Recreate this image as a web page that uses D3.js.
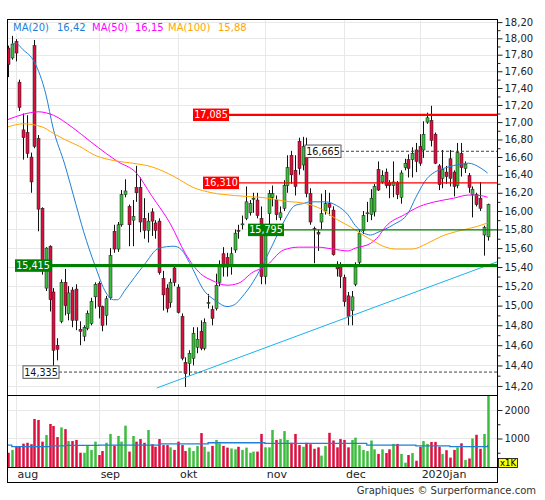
<!DOCTYPE html>
<html><head><meta charset="utf-8">
<script src="https://cdn.jsdelivr.net/npm/d3@7"></script>
<style>
body{margin:0;background:#fff}
svg{display:block}
text{font-family:"DejaVu Sans",Verdana,sans-serif}
</style>
</head><body>
<svg id="c" width="545" height="500"></svg>
<script>
// ---------- DATA ----------
const tradingDays = [
  ["2019-07", [30,31]],
  ["2019-08", [1,2,5,6,7,8,9,12,13,14,15,16,19,20,21,22,23,26,27,28,29,30]],
  ["2019-09", [2,3,4,5,6,9,10,11,12,13,16,17,18,19,20,23,24,25,26,27,30]],
  ["2019-10", [1,2,3,4,7,8,9,10,11,14,15,16,17,18,21,22,23,24,25,28,29,30,31]],
  ["2019-11", [1,4,5,6,7,8,11,12,13,14,15,18,19,20,21,22,25,26,27,28,29]],
  ["2019-12", [2,3,4,5,6,9,10,11,12,13,16,17,18,19,20,23,24,27,30,31]],
  ["2020-01", [2,3,6,7,8,9,10,13,14,15,16,17,20,21,22,23,24,27,28]]
];
const dates = tradingDays.flatMap(([m, ds]) => ds.map(d => m + "-" + String(d).padStart(2, "0")));

const open = [
17.88,17.76,17.96,17.47,16.91,16.88,16.60,17.91,16.81,16.03,
15.18,15.62,15.14,14.60,14.84,15.24,14.92,15.16,15.17,14.76,
14.69,14.77,14.82,15.09,15.23,14.99,14.90,15.08,15.78,15.59,
15.85,16.18,16.05,15.90,16.26,16.26,15.92,15.79,15.99,15.87,
15.89,15.28,15.18,15.03,15.39,15.19,14.89,14.43,14.42,14.47,
14.58,14.74,14.57,15.02,14.96,14.97,15.24,15.54,15.50,15.42,
15.58,15.79,15.85,15.92,15.98,16.14,16.12,15.92,15.30,15.97,
16.15,16.12,15.93,16.03,16.28,16.62,16.45,16.78,16.51,16.62,
16.19,15.81,15.77,15.88,16.00,16.08,16.01,15.43,15.42,15.29,
15.10,14.95,15.22,15.45,15.79,15.97,15.96,15.99,16.46,16.32,
16.43,16.31,16.28,16.31,16.15,16.48,16.57,16.57,16.68,16.72,
16.68,17.00,17.02,16.86,16.50,16.36,16.43,16.58,16.43,16.28,
16.64,16.47,16.39,16.18,16.18,16.14,15.74,15.72];
const high = [
17.91,18.03,17.99,17.50,17.10,17.08,16.65,17.98,16.85,16.04,
15.61,15.63,15.18,14.67,15.27,15.38,15.20,15.19,15.22,14.84,
14.80,14.95,15.08,15.24,15.25,15.00,15.10,15.60,15.85,15.88,
16.23,16.35,16.07,16.12,16.50,16.37,16.14,15.98,16.03,15.90,
15.92,15.36,15.22,15.28,15.40,15.22,14.92,14.48,14.55,14.78,
14.78,14.85,14.87,15.12,15.00,15.33,15.47,15.61,15.55,15.61,
15.80,15.85,15.95,16.27,16.12,16.20,16.20,16.05,15.80,16.23,
16.28,16.17,16.05,16.34,16.62,16.67,16.62,16.82,16.83,16.82,
16.25,15.83,15.80,16.19,16.23,16.20,16.05,15.46,15.45,15.32,
15.14,15.15,15.45,15.80,16.00,16.10,16.24,16.30,16.55,16.45,
16.47,16.34,16.55,16.33,16.45,16.58,16.63,16.71,16.76,16.86,
17.01,17.11,17.19,16.88,16.52,16.68,16.50,16.68,16.45,16.76,
16.76,16.55,16.42,16.27,16.20,16.32,15.84,16.08];
const low = [
17.53,17.74,17.72,17.13,16.57,16.59,16.20,16.70,15.78,15.32,
15.15,14.94,14.335,14.45,14.82,14.90,14.85,14.78,14.75,14.60,
14.64,14.75,14.80,14.97,14.87,14.74,14.80,15.06,15.55,15.56,
15.83,16.15,15.62,15.62,16.10,15.77,15.70,15.66,15.73,15.70,
15.32,14.95,14.93,14.98,15.20,14.92,14.45,14.19,14.30,14.40,
14.52,14.55,14.55,14.97,14.80,14.95,15.20,15.30,15.30,15.32,
15.55,15.70,15.80,15.90,15.95,15.98,15.92,15.22,15.22,15.85,
16.05,15.90,15.90,16.00,16.20,16.30,16.17,16.40,16.45,16.15,
15.85,15.44,15.57,15.80,15.96,15.95,15.52,15.30,15.18,14.99,
14.80,14.80,15.20,15.40,15.75,15.88,15.90,15.94,16.22,16.30,
16.25,16.14,16.15,16.13,16.08,16.45,16.37,16.37,16.43,16.50,
16.59,16.98,16.72,16.52,16.23,16.25,16.30,16.27,16.16,16.25,
16.38,16.42,16.20,15.93,16.05,16.00,15.52,15.68];
const close = [
17.68,17.93,17.82,17.17,16.82,16.64,16.32,16.72,16.02,15.41,
15.60,15.06,14.55,14.56,15.24,15.00,15.13,14.85,14.85,14.74,
14.78,14.92,15.04,15.22,14.99,14.80,15.07,15.52,15.59,15.85,
16.18,16.22,15.85,15.94,16.20,15.88,15.79,15.89,15.89,15.79,
15.34,15.11,14.97,15.24,15.24,14.93,14.47,14.32,14.52,14.72,
14.66,14.57,14.83,15.03,14.87,15.21,15.42,15.40,15.40,15.54,
15.76,15.78,15.86,16.10,16.08,16.14,15.95,15.30,15.74,16.19,
16.19,15.96,15.98,16.28,16.48,16.40,16.27,16.47,16.72,16.19,
15.88,15.80,15.75,15.97,16.08,16.04,15.53,15.38,15.30,15.04,
14.89,15.09,15.40,15.76,15.95,15.98,16.14,16.27,16.23,16.39,
16.28,16.28,16.32,16.18,16.42,16.53,16.47,16.64,16.55,16.53,
16.86,17.05,16.79,16.53,16.29,16.46,16.38,16.36,16.27,16.65,
16.48,16.52,16.26,16.24,16.07,16.03,15.82,16.07];
// volume in thousands
const volume = [
500,600,710,710,820,850,800,1685,1650,890,
1120,1510,1440,1050,1390,1330,910,910,950,500,
500,750,600,890,420,560,850,1160,750,1090,
890,1450,540,1090,890,980,850,1300,800,710,
980,770,770,690,600,890,770,560,680,560,
740,1190,710,540,740,950,830,740,680,650,
620,710,600,680,500,540,540,1160,690,690,
1300,950,980,1260,950,850,1160,770,710,850,
800,640,690,400,740,1200,930,690,980,950,
690,950,1030,770,600,560,930,620,460,620,
490,620,810,810,460,150,420,490,220,710,
910,810,880,880,710,460,590,330,600,690,
830,250,300,1000,1130,640,1160,2700];

// moving averages (bar index, value)
const ma20Idx = [1,2,4,7,10,12,15,18,20,23,26,28,29,31,36,40,44,46,48,52,55,58,60,62,65,67,70,73,76,78,80,84,87,90,92,96,98,102,106,108,111,113,116,120,122,125,127];
const ma20Val = [17.93,17.94,17.86,17.71,17.33,16.92,16.52,16.07,15.78,15.42,15.13,15.06,15.06,15.16,15.42,15.60,15.62,15.58,15.45,15.15,15.05,14.99,15.01,15.09,15.25,15.39,15.63,15.88,16.06,16.08,16.10,16.10,16.06,15.96,15.84,15.74,15.77,15.85,15.98,16.15,16.36,16.43,16.48,16.52,16.53,16.48,16.42];
const ma50Idx = [0,4,8,12,17,22,26,29,34,38,43,47,51,54,58,61,65,68,73,77,82,86,90,92,96,98,100,105,109,113,118,122,125,127];
const ma50Val = [17.03,17.09,17.12,17.08,16.94,16.77,16.64,16.55,16.42,16.17,15.86,15.54,15.33,15.26,15.21,15.23,15.35,15.40,15.58,15.61,15.61,15.59,15.57,15.60,15.65,15.72,15.83,15.96,16.05,16.10,16.14,16.175,16.17,16.15];
const ma100Idx = [0,4,9,12,15,19,23,28,33,38,44,49,54,60,65,69,73,79,83,87,91,94,97,100,103,107,111,115,120,124,127];
const ma100Val = [16.945,16.98,16.945,16.87,16.80,16.72,16.62,16.56,16.53,16.49,16.38,16.26,16.20,16.17,16.155,16.14,16.11,16.08,16.02,15.91,15.82,15.74,15.67,15.61,15.59,15.59,15.65,15.73,15.79,15.83,15.87];
const maNames = ["MA(20)", "MA(50)", "MA(100)"];
const maLast = ["16,42", "16,15", "15,88"];

// average volume (step line, thousands)
const volAvgIdx = [0,1,11,15,24,40,53,68,95,108,117,127];
const volAvgVal = [770,715,740,760,770,810,850,830,770,740,715,770];

// horizontal levels
const levelValues = [17.085, 16.310, 15.795, 15.415, 16.665, 14.335];
const levelLabels = ["17,085", "16,310", "15,795", "15,415", "16,665", "14,335"];

// trend line anchors (bar index, price)
const trendIdx = [39.4, 129.5];
const trendVal = [14.18, 15.455];

const priceTicks = [14.2,14.4,14.6,14.8,15.0,15.2,15.4,15.6,15.8,16.0,16.2,16.4,16.6,16.8,17.0,17.2,17.4,17.6,17.8,18.0,18.2];
const volTicks = [1000, 2000];
const monthStarts = ["2019-08-01","2019-09-02","2019-10-01","2019-11-01","2019-12-02","2020-01-02"];
const monthLabels = ["aug","sep","okt","nov","dec","2020jan"];

// ---------- DRAW ----------
const svg = d3.select("#c");
const L = 7, R = 497, T = 19, PB = 395, VB = 467, B = 482;
const RED = "#dc0f3f", GREEN = "#3dbd3d", BLUE = "#1f80d8", MAG = "#ff00ff", ORA = "#ffa500";

const x = d3.scaleLinear().domain([0, dates.length - 1]).range([8, 487.6]);
const y = d3.scaleLog().domain([14.1126, 18.2387]).range([PB, T]);
const yv = d3.scaleLinear().domain([0, 2491]).range([VB, PB + 1]);

const defs = svg.append("defs");
defs.append("clipPath").attr("id", "cp").append("rect").attr("x", L).attr("y", T).attr("width", R - L).attr("height", PB - T);
defs.append("clipPath").attr("id", "cv").append("rect").attr("x", L).attr("y", PB).attr("width", R - L).attr("height", VB - PB);

// grid
const grid = svg.append("g").attr("stroke", "#e8e8e8").attr("shape-rendering", "crispEdges");
priceTicks.forEach(v => grid.append("line").attr("x1", L).attr("x2", R).attr("y1", Math.round(y(v)) + 0.5).attr("y2", Math.round(y(v)) + 0.5));
volTicks.forEach(v => grid.append("line").attr("x1", L).attr("x2", R).attr("y1", Math.round(yv(v)) + 0.5).attr("y2", Math.round(yv(v)) + 0.5));
monthStarts.forEach(d => {
  const xx = Math.round(x(dates.indexOf(d))) + 0.5;
  grid.append("line").attr("x1", xx).attr("x2", xx).attr("y1", T).attr("y2", VB);
});

// legend background
svg.append("rect").attr("x", L + 1).attr("y", 23.5).attr("width", 245).attr("height", 10).attr("fill", "#fff");

// volume
const gv = svg.append("g").attr("clip-path", "url(#cv)");
gv.selectAll("rect.v").data(volume).join("rect")
  .attr("x", (d, i) => Math.round(x(i)) - 0.75).attr("width", 2.5)
  .attr("y", d => yv(d)).attr("height", d => VB - yv(d))
  .attr("fill", (d, i) => close[i] >= open[i] ? GREEN : RED);
gv.append("path")
  .datum(volAvgIdx.map((k, j) => [k, volAvgVal[j]]))
  .attr("fill", "none").attr("stroke", BLUE).attr("stroke-width", 1.3)
  .attr("d", d3.line().x(d => x(d[0])).y(d => yv(d[1])).curve(d3.curveStepAfter));

// price panel
const gp = svg.append("g").attr("clip-path", "url(#cp)");

// candles
const gc = gp.append("g");
dates.forEach((d, i) => {
  const cx = Math.round(x(i));
  const up = close[i] >= open[i];
  gc.append("line").attr("x1", cx + 0.5).attr("x2", cx + 0.5)
    .attr("y1", y(high[i])).attr("y2", y(low[i])).attr("stroke", "#111").attr("stroke-width", 1);
  const top = y(Math.max(open[i], close[i])), bot = y(Math.min(open[i], close[i]));
  gc.append("rect").attr("x", cx - 1).attr("width", 3)
    .attr("y", top).attr("height", Math.max(1, bot - top))
    .attr("fill", up ? GREEN : RED).attr("stroke", "#1a1a1a").attr("stroke-width", 0.5);
});

// moving averages
const maLine = d3.line().x(d => x(d[0])).y(d => y(d[1])).curve(d3.curveMonotoneX);
[[ma20Idx, ma20Val, BLUE], [ma50Idx, ma50Val, MAG], [ma100Idx, ma100Val, ORA]].forEach(([ix, vs, col]) => {
  gp.append("path").datum(ix.map((k, j) => [k, vs[j]]))
    .attr("fill", "none").attr("stroke", col).attr("stroke-width", 1).attr("d", maLine);
});

// trend line
gp.append("line")
  .attr("x1", x(trendIdx[0])).attr("y1", y(trendVal[0]))
  .attr("x2", x(trendIdx[1])).attr("y2", y(trendVal[1]))
  .attr("stroke", "#19b4ee").attr("stroke-width", 1);

// levels
const levelStyle = [
  {box: "#ff0000", txt: "#fff", line: "#ff0000", w: 2.2, x0: 193, dash: null},
  {box: "#ff0000", txt: "#fff", line: "#ff0000", w: 1.3, x0: 203, dash: null},
  {box: "#008000", txt: "#fff", line: "#008000", w: 1.3, x0: 248, dash: null},
  {box: "#008000", txt: "#fff", line: "#008000", w: 3, x0: 15, dash: null},
  {box: "#fff", txt: "#111", line: "#444", w: 1, x0: 305, dash: "3,2", border: "#555"},
  {box: "#fff", txt: "#111", line: "#444", w: 1, x0: 23, dash: "3,2", border: "#555"}
];
const gl = svg.append("g");
levelValues.forEach((v, k) => {
  const s = levelStyle[k];
  const yy = y(v), bw = 36, bh = 12.5;
  gl.append("line").attr("x1", s.x0 + bw).attr("x2", R).attr("y1", yy).attr("y2", yy)
    .attr("stroke", s.line).attr("stroke-width", s.w).attr("stroke-dasharray", s.dash);
  gl.append("rect").attr("x", s.x0).attr("y", yy - bh / 2).attr("width", bw).attr("height", bh)
    .attr("fill", s.box).attr("stroke", s.border || "none").attr("stroke-width", 1);
  gl.append("text").attr("x", s.x0 + bw / 2).attr("y", yy + 3.6).attr("text-anchor", "middle")
    .attr("font-size", 9.6).attr("fill", s.txt).text(levelLabels[k]);
});

// frame
const fr = svg.append("g").attr("stroke", "#000").attr("fill", "none").attr("shape-rendering", "crispEdges");
fr.append("rect").attr("x", L + 0.5).attr("y", T + 0.5).attr("width", R - L).attr("height", B - T);
fr.append("line").attr("x1", L).attr("x2", R).attr("y1", PB + 0.5).attr("y2", PB + 0.5);
fr.append("line").attr("x1", L).attr("x2", R).attr("y1", VB + 0.5).attr("y2", VB + 0.5);

// price axis
const fmt = v => v.toFixed(2).replace(".", ",");
const ax = svg.append("g").attr("transform", `translate(${R + 0.5},0)`)
  .call(d3.axisRight(y).tickValues(priceTicks).tickSize(5).tickPadding(2).tickFormat(fmt));
ax.select(".domain").remove();
ax.selectAll("text").attr("font-size", 10).attr("font-family", "DejaVu Sans, Verdana, sans-serif").attr("fill", "#222");
ax.selectAll("line").attr("stroke", "#222");
const axm = svg.append("g").attr("transform", `translate(${R + 0.5},0)`)
  .call(d3.axisRight(y).tickValues(d3.range(14.3, 18.2, 0.2)).tickSize(3).tickFormat(""));
axm.select(".domain").remove();
axm.selectAll("line").attr("stroke", "#222");

// volume axis
const av = svg.append("g").attr("transform", `translate(${R + 0.5},0)`)
  .call(d3.axisRight(yv).tickValues(volTicks).tickSize(5).tickPadding(2).tickFormat(d3.format("d")));
av.select(".domain").remove();
av.selectAll("text").attr("font-size", 10).attr("font-family", "DejaVu Sans, Verdana, sans-serif").attr("fill", "#222");
av.selectAll("line").attr("stroke", "#222");
const avm = svg.append("g").attr("transform", `translate(${R + 0.5},0)`)
  .call(d3.axisRight(yv).tickValues([500, 1500]).tickSize(3).tickFormat(""));
avm.select(".domain").remove();
avm.selectAll("line").attr("stroke", "#222");

// x1K box
svg.append("rect").attr("x", 498.5).attr("y", 458.5).attr("width", 19).attr("height", 9).attr("fill", "#ffff00").attr("stroke", "#000").attr("stroke-width", 0.8);
svg.append("text").attr("x", 508).attr("y", 466.2).attr("text-anchor", "middle").attr("font-size", 8.5).attr("fill", "#000").text("x1K");

// month labels
monthStarts.forEach((d, k) => {
  svg.append("text").attr("x", x(dates.indexOf(d)) + 2).attr("y", 477.5)
    .attr("font-size", 11).attr("fill", "#222").text(monthLabels[k]);
});

// legend
const legX = [13, 57, 92, 135, 168, 218];
const legCol = [BLUE, MAG, ORA];
maNames.forEach((n, k) => {
  svg.append("text").attr("x", legX[2 * k]).attr("y", 30.5).attr("font-size", 10).attr("fill", legCol[k]).text(n);
  svg.append("text").attr("x", legX[2 * k + 1]).attr("y", 30.5).attr("font-size", 10).attr("fill", legCol[k]).text(maLast[k]);
});

// footer
svg.append("text").attr("x", 536).attr("y", 494).attr("text-anchor", "end")
  .attr("font-size", 10).attr("fill", "#333").text("Graphiques © Surperformance.com");
</script>
</body></html>
